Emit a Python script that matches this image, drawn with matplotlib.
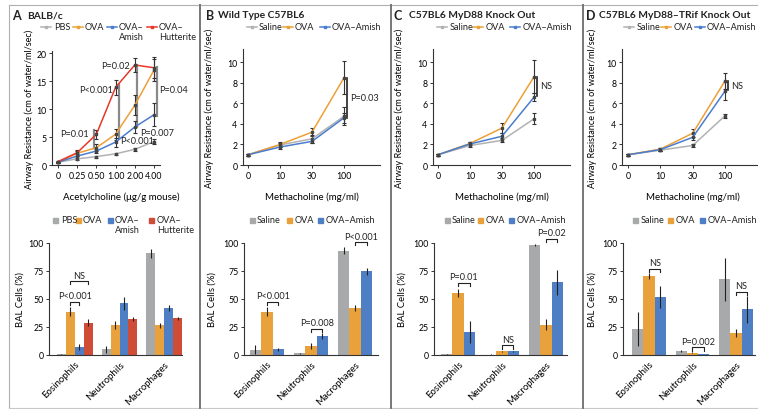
import matplotlib.pyplot as plt
from matplotlib.lines import Line2D
from matplotlib.patches import Rectangle

plt.rcParams['font.family'] = ['Lato', 'DejaVu Sans']
plt.rcParams['font.size'] = 6.5
plt.rcParams['axes.linewidth'] = 0.8
plt.rcParams['text.color'] = '#222222'

W, H = 758, 410

# ---- A: BALB/c, airway resistance vs acetylcholine ----
ach_doses = ['0', '0.25', '0.50', '1.00', '2.00', '4.00']
a_pbs = [0.5, 1.1, 1.5, 2.0, 2.8, 4.2]
a_pbs_err = [0.1, 0.2, 0.2, 0.2, 0.3, 0.4]
a_ova = [0.5, 2.1, 3.1, 5.5, 10.7, 17.0]
a_ova_err = [0.1, 0.4, 0.6, 1.0, 1.8, 2.0]
a_amish = [0.5, 1.6, 2.5, 4.1, 6.8, 9.0]
a_amish_err = [0.1, 0.3, 0.4, 0.8, 1.0, 2.1]
a_hutt = [0.6, 2.2, 5.5, 13.9, 17.9, 17.4]
a_hutt_err = [0.1, 0.5, 0.8, 1.3, 1.3, 1.9]

# ---- B-D: airway resistance vs methacholine ----
mch_doses = ['0', '10', '30', '100']
b_saline = [1.0, 1.95, 2.55, 4.75]
b_saline_err = [0.1, 0.2, 0.4, 0.9]
b_ova = [1.0, 2.0, 3.2, 8.5]
b_ova_err = [0.1, 0.2, 0.4, 1.6]
b_amish = [1.0, 1.75, 2.3, 4.6]
b_amish_err = [0.1, 0.15, 0.2, 0.5]

c_saline = [1.0, 1.9, 2.4, 4.5]
c_saline_err = [0.1, 0.15, 0.2, 0.55]
c_ova = [1.0, 2.1, 3.6, 8.6]
c_ova_err = [0.1, 0.15, 0.45, 1.6]
c_amish = [1.0, 2.05, 2.8, 6.6]
c_amish_err = [0.1, 0.15, 0.3, 0.4]

d_saline = [1.0, 1.45, 1.9, 4.8]
d_saline_err = [0.1, 0.1, 0.1, 0.2]
d_ova = [1.0, 1.55, 3.1, 8.2]
d_ova_err = [0.1, 0.15, 0.4, 0.8]
d_amish = [1.0, 1.5, 2.7, 7.2]
d_amish_err = [0.1, 0.15, 0.3, 0.9]

# ---- BAL cells (%) ----
cells = ['Eosinophils', 'Neutrophils', 'Macrophages']
a_bal_pbs = [0.5, 5, 91]
a_bal_pbs_err = [0.5, 3, 4]
a_bal_ova = [38.5, 27, 26.5]
a_bal_ova_err = [4, 3.5, 2.5]
a_bal_amish = [7, 46, 42]
a_bal_amish_err = [2.5, 6, 3]
a_bal_hutt = [29, 32, 32.7]
a_bal_hutt_err = [3.5, 2, 1.5]

b_bal_saline = [4.5, 1.5, 93]
b_bal_saline_err = [4, 0.5, 3]
b_bal_ova = [38.5, 8, 42]
b_bal_ova_err = [4, 2.5, 2.5]
b_bal_amish = [5, 17, 74.7]
b_bal_amish_err = [1, 2.5, 3]

c_bal_saline = [0.5, 0.3, 98]
c_bal_saline_err = [0.3, 0.2, 1]
c_bal_ova = [55.5, 3.5, 27]
c_bal_ova_err = [3.5, 0.5, 5]
c_bal_amish = [20.5, 3.5, 65]
c_bal_amish_err = [10, 0.5, 11]

d_bal_saline = [23, 3.5, 67.5]
d_bal_saline_err = [15, 1, 19]
d_bal_ova = [70.5, 2, 20]
d_bal_ova_err = [2.5, 0.3, 3.5]
d_bal_amish = [52, 1, 41]
d_bal_amish_err = [10, 0.3, 12]

GRAY_L, ORANGE_L, BLUE_L, RED_L = '#b2b2b2', '#eda038', '#4a7dd0', '#e8382b'
GRAY_B, ORANGE_B, BLUE_B, RED_B = '#a8a9ab', '#e9a23b', '#4e7fc4', '#cf4c36'

fig = plt.figure(figsize=(W / 100, H / 100), dpi=100)


def fx(px):
    return px / W


def fy(py):
    return 1 - py / H


def add_ax(x0, y0, x1, y1):
    ax = fig.add_axes([fx(x0), fy(y1), (x1 - x0) / W, (y1 - y0) / H])
    for s in ('top', 'right'):
        ax.spines[s].set_visible(False)
    for s in ('left', 'bottom'):
        ax.spines[s].set_color('#333333')
    ax.tick_params(length=2.5, width=0.7, pad=1.5, labelsize=6.3, color='#333333')
    return ax


# frame and panel dividers
fig.add_artist(Line2D([fx(9), fx(9)], [fy(6), fy(409)], color='#b0b0b0', lw=0.8))
fig.add_artist(Line2D([fx(9), 1], [fy(6), fy(6)], color='#b0b0b0', lw=0.8))
fig.add_artist(Line2D([fx(9), 1], [fy(409), fy(409)], color='#c8c8c8', lw=0.8))
for xd in (200, 391, 583):
    fig.add_artist(Line2D([fx(xd), fx(xd)], [fy(6), fy(409)], color='#777777', lw=1.4))

# panel titles
for letter, lx, title, tx in [('A', 12, 'BALB/c', 27), ('B', 206, 'Wild Type C57BL6', 218),
                              ('C', 393, 'C57BL6 MyD88 Knock Out', 409),
                              ('D', 586, 'C57BL6 MyD88\u2013TRif Knock Out', 599)]:
    fig.text(fx(lx), fy(16), letter, fontsize=9, fontweight='bold', va='center')
    fig.text(fx(tx), fy(16), title, fontsize=7.4, fontweight='bold', va='center')


def line_legend(items, y):
    for x0, x1, tx, label, color in items:
        fig.add_artist(Line2D([fx(x0), fx(x1)], [fy(y), fy(y)], color=color, lw=1.1))
        fig.add_artist(Line2D([fx((x0 + x1) / 2)], [fy(y)], marker='s', ms=2, color=color))
        fig.text(fx(tx), fy(y - 4.5), label, va='top', ha='left', fontsize=6.6, linespacing=1.05)


def bar_legend(items, y):
    for sx, tx, label, color in items:
        fig.add_artist(Rectangle((fx(sx), fy(y + 2.5)), 5 / W, 5 / H, color=color,
                                 transform=fig.transFigure))
        fig.text(fx(tx), fy(y - 4.5), label, va='top', ha='left', fontsize=6.6, linespacing=1.05)


def line_panel(box, ticks, series, xlim, ylim, yticks, xlabel, xlabel_x, ylabel_px):
    ax = add_ax(*box)
    x = list(range(len(ticks)))
    for vals, errs, color in series:
        ax.errorbar(x, vals, yerr=errs, color=color, lw=1.1, marker='s', ms=2,
                    mfc='#444444', mec='#444444', ecolor='#333333', elinewidth=0.8,
                    capsize=1.5, capthick=0.8, clip_on=False)
    ax.set_xlim(*xlim)
    ax.set_ylim(*ylim)
    ax.set_yticks(yticks)
    ax.set_xticks(x)
    ax.set_xticklabels(ticks)
    ax.set_xlabel(xlabel, fontsize=7)
    ax.xaxis.set_label_coords(xlabel_x, (box[3] - 192) / (box[3] - box[1]))
    ax.set_ylabel('Airway Resistance (cm of water/ml/sec)', fontsize=6.6)
    ax.yaxis.set_label_coords((ylabel_px - box[0]) / (box[2] - box[0]), 0.5)
    return ax


def bar_panel(box, series, colors, width, xlim, brackets, ylabel_px):
    ax = add_ax(*box)
    n = len(series)
    offs = [(i - (n - 1) / 2) * width for i in range(n)]
    for (vals, errs), color, off in zip(series, colors, offs):
        ax.bar([g + off for g in range(len(cells))], vals, width, yerr=errs, color=color,
               error_kw=dict(elinewidth=0.8, ecolor='#222222', capsize=0), zorder=2)
    ax.set_xlim(*xlim)
    ax.set_ylim(0, 100)
    ax.set_yticks([0, 25, 50, 75, 100])
    ax.set_xticks(range(len(cells)))
    ax.set_xticklabels(cells, rotation=45, ha='right', rotation_mode='anchor', fontsize=6.9)
    ax.tick_params(axis='x', length=0, pad=3)
    ax.set_ylabel('BAL Cells (%)', fontsize=6.8)
    ax.yaxis.set_label_coords((ylabel_px - box[0]) / (box[2] - box[0]), 0.5)
    for g, i, j, y, label in brackets:
        xa, xb = g + offs[i], g + offs[j]
        ax.plot([xa, xa, xb, xb], [y - 3, y, y, y - 3], color='#222222', lw=0.8, clip_on=False)
        ax.text((xa + xb) / 2, y + 1.2, label, ha='center', va='bottom', fontsize=6.6, clip_on=False)
    return ax


# ---- line panels ----
axA = line_panel((52, 52, 160, 166), ach_doses,
                 [(a_pbs, a_pbs_err, GRAY_L), (a_ova, a_ova_err, ORANGE_L),
                  (a_amish, a_amish_err, BLUE_L), (a_hutt, a_hutt_err, RED_L)],
                 (-0.31, 5.31), (0, 20.4), [0, 5, 10, 15, 20],
                 'Acetylcholine (\u03bcg/g mouse)', 0.64, 34)
sig_gray = '#8a8a8a'
for xs, y0, y1 in [(1.85, 3.0, 6.2), (3.17, 4.8, 14.5), (4.12, 6.8, 17.9), (5.17, 8.8, 17.5)]:
    axA.plot([xs, xs], [y0, y1], color=sig_gray, lw=1.6, clip_on=False, zorder=1)
for xs, ys, label, ha in [(1.6, 5.6, 'P=0.01', 'right'), (2.87, 13.5, 'P<0.001', 'right'),
                          (3.75, 17.8, 'P=0.02', 'right'), (5.28, 13.5, 'P=0.04', 'left'),
                          (4.27, 5.9, 'P=0.007', 'left'), (3.22, 4.3, 'P<0.001', 'left')]:
    axA.text(xs, ys, label, ha=ha, va='center', fontsize=6.6)

mch_series = [
    ((243, 50, 380, 166), b_saline, b_saline_err, b_ova, b_ova_err, b_amish, b_amish_err,
     (-0.156, 4.125), 0.5, 214, 4.6, 8.5, 6.6, 'P=0.03'),
    ((433, 50, 570, 166), c_saline, c_saline_err, c_ova, c_ova_err, c_amish, c_amish_err,
     (-0.156, 4.125), 0.5, 404, 6.7, 8.6, 7.75, 'NS'),
    ((622, 50, 758, 166), d_saline, d_saline_err, d_ova, d_ova_err, d_amish, d_amish_err,
     (-0.19, 4.02), 0.52, 597, 7.3, 8.2, 7.75, 'NS'),
]
for box, s, se, o, oe, am, ame, xl, lx, ylx, p0, p1, py, plab in mch_series:
    ax = line_panel(box, mch_doses, [(s, se, GRAY_L), (o, oe, ORANGE_L), (am, ame, BLUE_L)],
                    xl, (0, 11.3), [0, 2, 4, 6, 8, 10], 'Methacholine (mg/ml)', lx, ylx)
    ax.plot([3.1, 3.1], [p0, p1], color='#222222', lw=1.2, clip_on=False)
    ax.text(3.19, py, plab, ha='left', va='center', fontsize=6.6)

# line legends
line_legend([(41, 51, 54, 'PBS', GRAY_L), (73, 83, 85, 'OVA', ORANGE_L),
             (107, 117, 119, 'OVA\u2013\nAmish', BLUE_L),
             (147, 157, 159, 'OVA\u2013\nHutterite', RED_L)], 28)
line_legend([(247, 257, 259, 'Saline', GRAY_L), (283, 293, 295, 'OVA', ORANGE_L),
             (320, 330, 332, 'OVA\u2013Amish', BLUE_L)], 28)
line_legend([(437, 447, 450, 'Saline', GRAY_L), (473, 483, 486, 'OVA', ORANGE_L),
             (510, 520, 523, 'OVA\u2013Amish', BLUE_L)], 28)
line_legend([(624, 634, 637, 'Saline', GRAY_L), (661, 671, 674, 'OVA', ORANGE_L),
             (695, 705, 707, 'OVA\u2013Amish', BLUE_L)], 28)

# ---- bar panels ----
bar_panel((49, 244, 182, 356),
          [(a_bal_pbs, a_bal_pbs_err), (a_bal_ova, a_bal_ova_err),
           (a_bal_amish, a_bal_amish_err), (a_bal_hutt, a_bal_hutt_err)],
          [GRAY_B, ORANGE_B, BLUE_B, RED_B], 0.2, (-0.58, 2.4),
          [(0, 1, 2, 47.6, 'P<0.001'), (0, 1, 3, 66, 'NS')], 25)
bar_panel((244, 244, 378, 356),
          [(b_bal_saline, b_bal_saline_err), (b_bal_ova, b_bal_ova_err),
           (b_bal_amish, b_bal_amish_err)],
          [GRAY_B, ORANGE_B, BLUE_B], 0.26, (-0.52, 2.52),
          [(0, 1, 2, 47.6, 'P<0.001'), (1, 1, 2, 23.5, 'P=0.008'), (2, 1, 2, 101, 'P<0.001')], 217)
bar_panel((434, 244, 567, 356),
          [(c_bal_saline, c_bal_saline_err), (c_bal_ova, c_bal_ova_err),
           (c_bal_amish, c_bal_amish_err)],
          [GRAY_B, ORANGE_B, BLUE_B], 0.26, (-0.55, 2.48),
          [(0, 1, 2, 64.5, 'P=0.01'), (1, 1, 2, 8.6, 'NS'), (2, 1, 2, 104, 'P=0.02')], 407)
bar_panel((623, 244, 755, 356),
          [(d_bal_saline, d_bal_saline_err), (d_bal_ova, d_bal_ova_err),
           (d_bal_amish, d_bal_amish_err)],
          [GRAY_B, ORANGE_B, BLUE_B], 0.26, (-0.6, 2.44),
          [(0, 1, 2, 77, 'NS'), (1, 1, 2, 7, 'P=0.002'), (2, 1, 2, 56.5, 'NS')], 597)

bar_legend([(53, 61, 'PBS', GRAY_B), (76, 83, 'OVA', ORANGE_B),
            (108, 115, 'OVA\u2013\nAmish', BLUE_B), (149, 157, 'OVA\u2013\nHutterite', RED_B)], 221)
bar_legend([(250, 257, 'Saline', GRAY_B), (287, 295, 'OVA', ORANGE_B),
            (318, 326, 'OVA\u2013Amish', BLUE_B)], 221)
bar_legend([(445, 452, 'Saline', GRAY_B), (478, 486, 'OVA', ORANGE_B),
            (509, 517, 'OVA\u2013Amish', BLUE_B)], 221)
bar_legend([(633, 641, 'Saline', GRAY_B), (668, 676, 'OVA', ORANGE_B),
            (700, 708, 'OVA\u2013Amish', BLUE_B)], 221)

fig.savefig('out.png', dpi=100)
